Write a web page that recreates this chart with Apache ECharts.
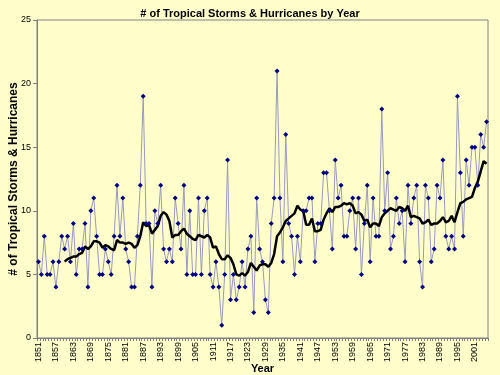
<!DOCTYPE html>
<html><head><meta charset="utf-8">
<script src="https://cdn.jsdelivr.net/npm/echarts@6/dist/echarts.min.js"></script>
<style>html,body{margin:0;padding:0;background:#FFFFCC;}#c{width:500px;height:375px;}</style>
</head><body><div id="c"></div>
<script>
const startYear = 1851;
const endYear = 2005;
const years = [];
for (let y = startYear; y <= endYear; y++) years.push(String(y));
const storms = [
  6,5,8,5,5,6,4,6,8,7,
  8,6,9,5,7,7,9,4,10,11,
  8,5,5,7,6,5,8,12,8,11,
  7,6,4,4,8,12,19,9,9,4,
  10,9,12,7,6,7,6,11,9,7,
  12,5,10,5,5,11,5,10,11,5,
  4,6,4,1,5,14,3,5,3,4,
  6,4,7,8,2,11,7,6,3,2,
  9,11,21,11,6,16,9,8,5,8,
  6,10,10,11,11,6,9,9,13,13,
  10,7,14,11,12,8,8,10,11,7,
  11,5,9,12,6,11,8,8,18,10,
  13,7,8,11,9,10,6,12,9,11,
  12,6,4,12,11,6,7,12,11,14,
  8,7,8,7,19,13,8,14,12,15,
  15,12,16,15,17
];
const maPeriod = 10;
// Excel-style 10-period moving average trendline
const movingAvg = storms.map((v, i) => {
  if (i < maPeriod - 1) return '-';
  let s = 0;
  for (let k = i - maPeriod + 1; k <= i; k++) s += storms[k];
  return +(s / maPeriod).toFixed(2);
});
const yTicks = [0, 5, 10, 15, 20, 25];

const chart = echarts.init(document.getElementById('c'), null, {renderer: 'canvas'});
const font = 'Liberation Sans, Arial, sans-serif';
chart.setOption({
  backgroundColor: '#FFFFCC',
  animation: false,
  textStyle: {fontFamily: font},
  title: {
    text: '# of Tropical Storms & Hurricanes by Year',
    left: 'center', top: 3,
    textStyle: {fontSize: 11, fontWeight: 'bold', color: '#000', fontFamily: font}
  },
  grid: {
    left: 37, right: 12, top: 20, bottom: 37,
    containLabel: false,
    outerBoundsMode: 'none',
    show: true, backgroundColor: '#FFFFCC', borderColor: '#808080', borderWidth: 1
  },
  xAxis: {
    type: 'category',
    data: years,
    boundaryGap: true,
    name: 'Year',
    nameLocation: 'middle',
    nameGap: 25,
    nameMoveOverlap: false,
    nameTextStyle: {fontSize: 11, fontWeight: 'bold', color: '#000', fontFamily: font},
    axisLine: {lineStyle: {color: '#808080', width: 1}},
    axisTick: {show: true, interval: 0, length: 3, lineStyle: {color: '#808080'}},
    axisLabel: {interval: 5, rotate: 90, fontSize: 9, color: '#000', margin: 4, fontFamily: font},
    splitLine: {show: false}
  },
  yAxis: {
    type: 'value',
    min: yTicks[0], max: yTicks[yTicks.length - 1], interval: 5,
    name: '# of Tropical Storms & Hurricanes',
    nameLocation: 'middle',
    nameGap: 17,
    nameMoveOverlap: false,
    nameTextStyle: {fontSize: 12, fontWeight: 'bold', color: '#000', fontFamily: font},
    axisLine: {show: true, lineStyle: {color: '#808080', width: 1}},
    axisTick: {show: true, length: 4, lineStyle: {color: '#808080'}},
    axisLabel: {fontSize: 9, color: '#000', margin: 6, fontFamily: font},
    splitLine: {show: false}
  },
  series: [
    {
      name: 'Storms',
      type: 'line',
      data: storms,
      symbol: 'diamond',
      symbolSize: 5,
      showAllSymbol: true,
      itemStyle: {color: '#000080'},
      lineStyle: {color: '#9a9ac0', width: 1}
    },
    {
      name: '10 per. Mov. Avg.',
      type: 'line',
      data: movingAvg,
      symbol: 'none',
      lineStyle: {color: '#000', width: 2.5}
    }
  ]
});
</script>
</body></html>
